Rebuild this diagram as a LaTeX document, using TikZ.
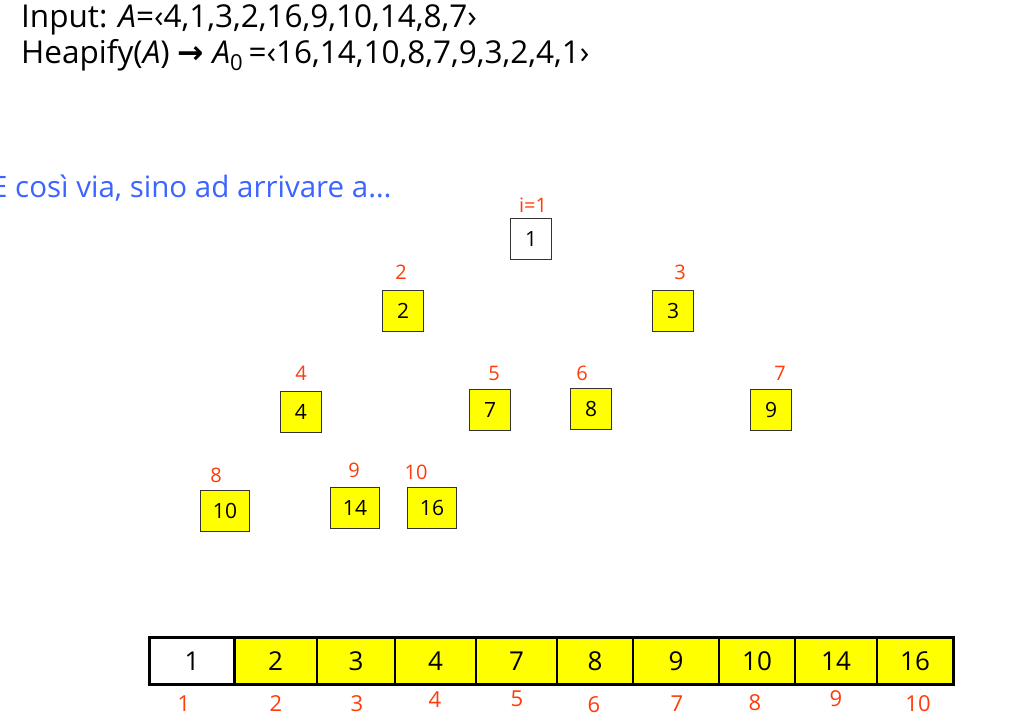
\documentclass[tikz,border=0pt]{standalone}
\usepackage{fontspec}
\setmainfont{Open Sans}
\newfontfamily\symfont{DejaVu Sans}
\usetikzlibrary{positioning}
\definecolor{lblred}{RGB}{255,60,10}
\definecolor{txtblue}{RGB}{60,100,255}
\definecolor{boxyellow}{RGB}{255,255,0}
\tikzset{
  treebox/.style={draw=black!80, line width=0.9pt, fill=boxyellow, minimum width=41pt, minimum height=41pt, inner sep=0pt, font=\fontsize{21}{21}\selectfont},
  rootbox/.style={treebox, fill=white},
  idxlbl/.style={text=lblred, inner sep=0pt, font=\fontsize{20}{20}\selectfont},
  cell/.style={draw=black, line width=1.5pt, fill=boxyellow, minimum height=46pt, inner sep=0pt, font=\fontsize{26}{26}\selectfont},
  arrlbl/.style={text=lblred, inner sep=0pt, font=\fontsize{22}{22}\selectfont},
  headtxt/.style={anchor=west, inner sep=0pt, font=\fontsize{31.5}{31.5}\selectfont}
}
\begin{document}
\begin{tikzpicture}[x=1pt,y=-1pt]
\useasboundingbox[fill=white] (0,0) rectangle (1012,721);
% header
\node[headtxt] (l1) at (21,20) {Input: \textit{A}=‹4,1,3,2,16,9,10,14,8,7›};
\node[headtxt] (l2) at (21,55) {Heapify(\textit{A}) {\symfont\textbf{→}} \textit{A}\textsubscript{0}\,=‹16,14,10,8,7,9,3,2,4,1›};
\node[headtxt, text=txtblue, font=\fontsize{29.5}{29.5}\selectfont] (l3) at (-9,188) {E così via, sino ad arrivare a…};
% tree
\node[rootbox] (t1) at (531,239) {1};
\node[treebox] (t2) at (403,311) {2};
\node[treebox] (t3) at (673,311) {3};
\node[treebox] (t4) at (301,412) {4};
\node[treebox] (t5) at (490,410) {7};
\node[treebox] (t6) at (591,409) {8};
\node[treebox] (t7) at (771,410) {9};
\node[treebox, minimum width=49pt] (t8) at (225,511) {10};
\node[treebox, minimum width=49pt] (t9) at (355,508) {14};
\node[treebox, minimum width=49pt] (t10) at (432,508) {16};
\node[idxlbl] (i1) at (533,205) {i=1};
\node[idxlbl] (i2) at (401,272) {2};
\node[idxlbl] (i3) at (680,272) {3};
\node[idxlbl] (i4) at (301,373) {4};
\node[idxlbl] (i5) at (494,373) {5};
\node[idxlbl] (i6) at (582,373) {6};
\node[idxlbl] (i7) at (780,373) {7};
\node[idxlbl] (i8) at (216,475) {8};
\node[idxlbl] (i9) at (354,470) {9};
\node[idxlbl] (i10) at (416,472) {10};
% array
\node[cell, fill=white, minimum width=84pt] (c1) at (192,661) {1};
\node[cell, minimum width=83pt] (c2) at (275.5,661) {2};
\node[cell, minimum width=78pt] (c3) at (356,661) {3};
\node[cell, minimum width=81pt] (c4) at (435.5,661) {4};
\node[cell, minimum width=81pt] (c5) at (516.5,661) {7};
\node[cell, minimum width=76pt] (c6) at (595,661) {8};
\node[cell, minimum width=86pt] (c7) at (676,661) {9};
\node[cell, minimum width=76pt] (c8) at (757,661) {10};
\node[cell, minimum width=82pt] (c9) at (836,661) {14};
\node[cell, minimum width=76pt] (c10) at (915,661) {16};
\draw[line width=3pt] (c1.north west) rectangle (c10.south east);
\draw[line width=3pt] (c1.north east) -- (c1.south east);
\node[arrlbl] (a1) at (184,704) {1};
\node[arrlbl] (a2) at (276,704) {2};
\node[arrlbl] (a3) at (357,704) {3};
\node[arrlbl] (a4) at (435,700) {4};
\node[arrlbl] (a5) at (517,699) {5};
\node[arrlbl] (a6) at (594,705) {6};
\node[arrlbl] (a7) at (677,704) {7};
\node[arrlbl] (a8) at (755,703) {8};
\node[arrlbl] (a9) at (836,699) {9};
\node[arrlbl] (a10) at (918,704) {10};
\end{tikzpicture}
\end{document}
